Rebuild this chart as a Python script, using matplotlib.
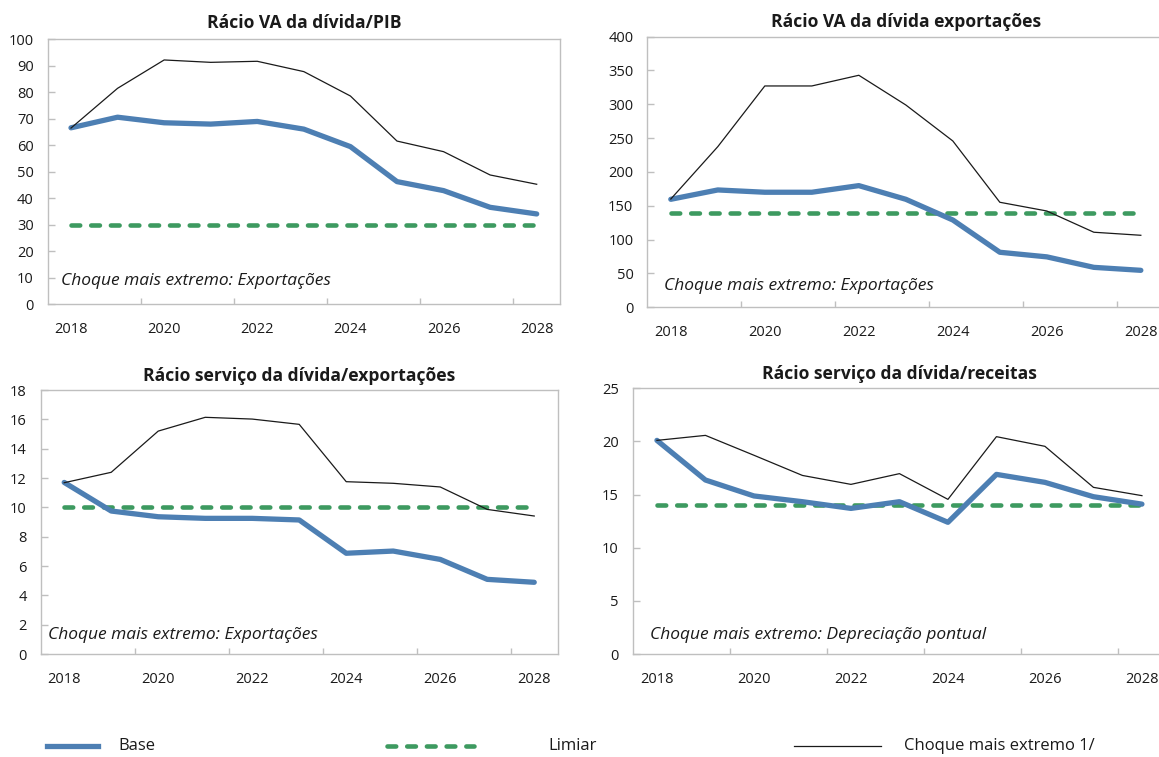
import matplotlib
matplotlib.use("Agg")
import matplotlib.pyplot as plt
from matplotlib.lines import Line2D
import numpy as np

plt.rcParams['font.family'] = ['Open Sans', 'DejaVu Sans']

years = [2018, 2019, 2020, 2021, 2022, 2023, 2024, 2025, 2026, 2027, 2028]
year_labels = ['2018', '2020', '2022', '2024', '2026', '2028']

titles = ['Rácio VA da dívida/PIB',
          'Rácio VA da dívida exportações',
          'Rácio serviço da dívida/exportações',
          'Rácio serviço da dívida/receitas']
notes = ['Choque mais extremo: Exportações',
         'Choque mais extremo: Exportações',
         'Choque mais extremo: Exportações',
         'Choque mais extremo: Depreciação pontual']

base_pib = [66.6, 70.6, 68.5, 68.0, 69.0, 66.1, 59.5, 46.3, 42.9, 36.6, 34.1]
shock_pib = [66.5, 81.5, 92.2, 91.3, 91.7, 87.8, 78.6, 61.6, 57.6, 48.8, 45.3]
limiar_pib = 30

base_exp = [159.6, 173.4, 170.0, 170.0, 179.8, 159.6, 129.0, 81.3, 74.5, 59.0, 54.6]
shock_exp = [160.0, 237.4, 327.1, 327.1, 342.9, 299.0, 245.8, 155.2, 142.3, 110.9, 106.4]
limiar_exp = 140

base_sde = [11.7, 9.75, 9.36, 9.25, 9.25, 9.14, 6.87, 7.02, 6.45, 5.09, 4.89]
shock_sde = [11.68, 12.39, 15.2, 16.14, 16.02, 15.66, 11.75, 11.64, 11.39, 9.86, 9.41]
limiar_sde = 10

base_sdr = [20.1, 16.37, 14.87, 14.33, 13.7, 14.33, 12.39, 16.9, 16.15, 14.8, 14.1]
shock_sdr = [20.1, 20.57, 18.7, 16.8, 15.96, 16.97, 14.55, 20.45, 19.54, 15.68, 14.9]
limiar_sdr = 14

ylims = [(0, 100), (0, 400), (0, 18), (0, 25)]
ysteps = [10, 50, 2, 5]

panels = [(base_pib, shock_pib, limiar_pib),
          (base_exp, shock_exp, limiar_exp),
          (base_sde, shock_sde, limiar_sde),
          (base_sdr, shock_sdr, limiar_sdr)]

# layout (figure fractions)
positions = [[0.04116, 0.5980, 0.4420, 0.3501],
             [0.5585, 0.5941, 0.4461, 0.3575],
             [0.03512, 0.13606, 0.4461, 0.3487],
             [0.5459, 0.13606, 0.4603, 0.3510]]
note_pos = [(0.026, 0.089), (0.032, 0.079), (0.014, 0.072), (0.032, 0.0715)]
title_pads = [8.0, 7.2, 6.3, 6.7]

BLUE = '#4d7fb3'
GREEN = '#3d9a60'
BLACK = '#1a1a1a'
FRAME = '#bfbfbf'
TXT = '#1a1a1a'

fig = plt.figure(figsize=(11.59, 7.57), dpi=100)

x = np.arange(len(years))
dash = (1.9, 2.4)

for i, (base, shock, lim) in enumerate(panels):
    ax = fig.add_axes(positions[i])
    ax.plot(x, [lim] * len(x), color=GREEN, lw=3.3, linestyle=(0, dash),
            dash_capstyle='round', zorder=2)
    ax.plot(x, base, color=BLUE, lw=3.8, solid_capstyle='round',
            solid_joinstyle='round', zorder=3)
    ax.plot(x, shock, color=BLACK, lw=0.9, zorder=4)
    ax.set_xlim(-0.5, len(x) - 0.5)
    ax.set_ylim(*ylims[i])
    ax.set_yticks(np.arange(ylims[i][0], ylims[i][1] + ysteps[i] / 2, ysteps[i]))
    ax.set_xticks(x[::2])
    ax.set_xticklabels(year_labels)
    ax.set_xticks(np.arange(1.5, len(x) - 1, 2), minor=True)
    ax.tick_params(axis='x', which='major', length=0, pad=13, labelsize=10.5, labelcolor=TXT)
    ax.tick_params(axis='x', which='minor', length=4, width=1, color=FRAME, direction='in')
    ax.tick_params(axis='y', which='major', length=5, width=1, color=FRAME, direction='in',
                   pad=10, labelsize=10.5, labelcolor=TXT)
    for s in ax.spines.values():
        s.set_color(FRAME)
        s.set_linewidth(1.0)
    ax.set_title(titles[i], fontsize=12.6, fontweight='bold', pad=title_pads[i], color=TXT)
    ax.text(note_pos[i][0], note_pos[i][1], notes[i], transform=ax.transAxes,
            fontsize=12.5, style='italic', va='center', ha='left', color=TXT)

# legend
ly = 1 - 746 / 757
fig.add_artist(Line2D([47 / 1159, 98 / 1159], [ly, ly], color=BLUE, lw=3.8))
fig.add_artist(Line2D([387 / 1159, 474 / 1159], [ly, ly], color=GREEN, lw=3.3,
                      linestyle=(0, dash), dash_capstyle='round'))
fig.add_artist(Line2D([794 / 1159, 881 / 1159], [ly, ly], color=BLACK, lw=0.9))
fig.text(118 / 1159, ly, 'Base', fontsize=12, va='center', ha='left', color=TXT)
fig.text(548 / 1159, ly, 'Limiar', fontsize=12, va='center', ha='left', color=TXT)
fig.text(904 / 1159, ly, 'Choque mais extremo 1/', fontsize=12, va='center', ha='left', color=TXT)

fig.savefig('out.png', dpi=100)
